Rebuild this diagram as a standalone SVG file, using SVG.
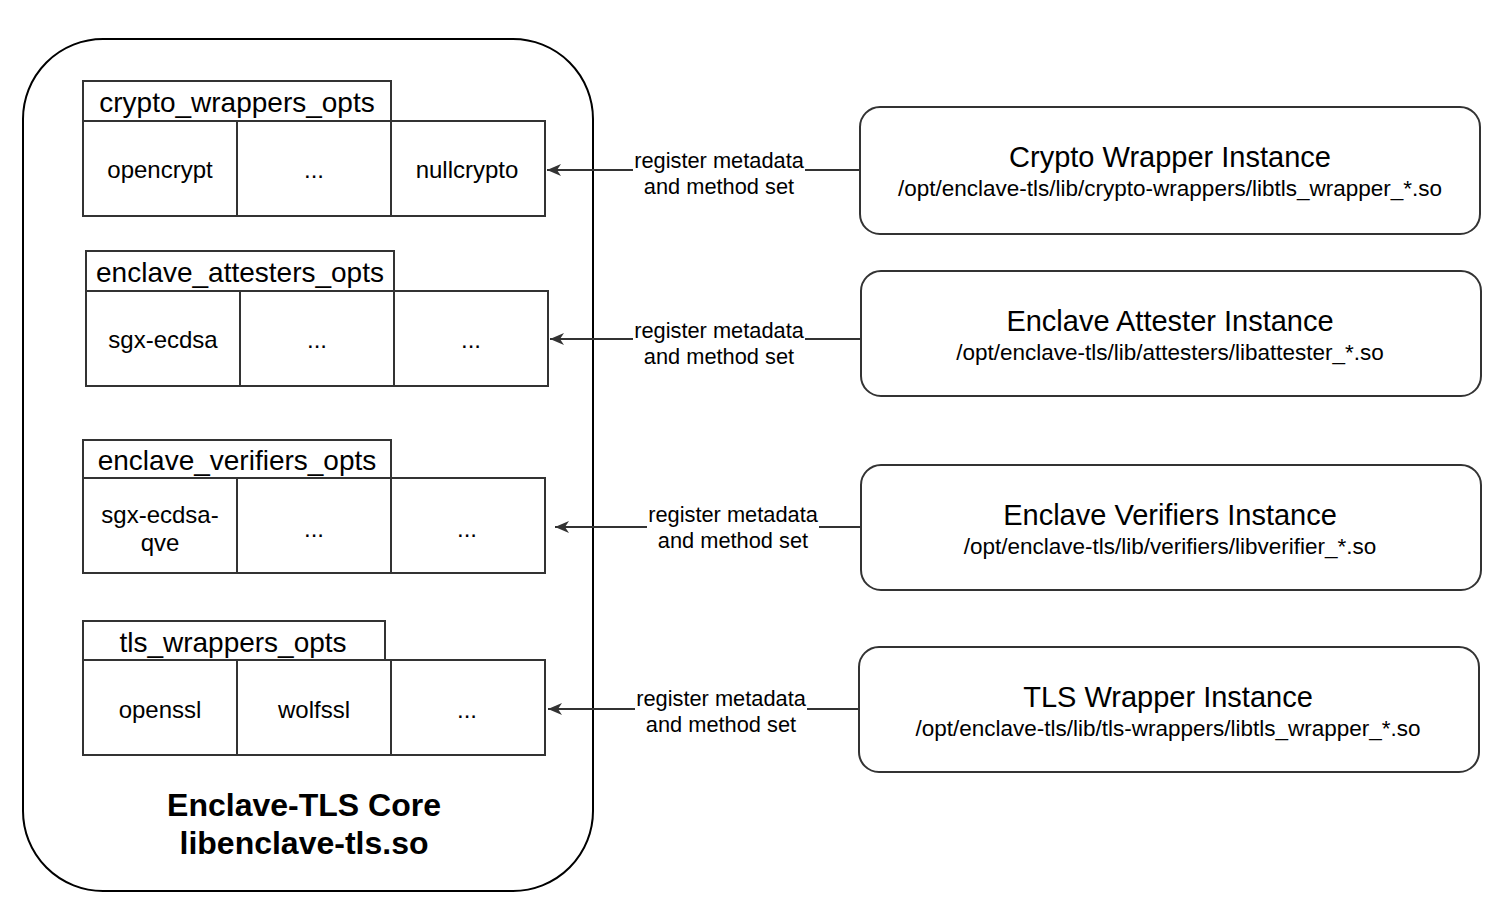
<svg xmlns="http://www.w3.org/2000/svg" width="1502" height="924" viewBox="0 0 1502 924">
<style>
text{font-family:"Liberation Sans",Arial,sans-serif;fill:#000;text-anchor:middle;dominant-baseline:central}
.cell{fill:#fff;stroke:#333;stroke-width:2}
.hdr{font-size:28px}
.ct{font-size:24px}
.lbl{font-size:21.8px}
.inst{fill:#fff;stroke:#333;stroke-width:2}
.it{font-size:29px}
.is{font-size:22.5px}
.core{font-size:32px;font-weight:bold}
.conn{fill:none;stroke:#333;stroke-width:2}
.lb{fill:#fff;stroke:none}
</style>
<defs>
<marker id="ah" markerWidth="16" markerHeight="14" refX="15" refY="7" orient="auto" markerUnits="userSpaceOnUse">
<path d="M15,7 L1,1 L5,7 L1,13 Z" fill="#333"/>
</marker>
</defs>
<rect width="1502" height="924" fill="#fff"/>
<g id="core">
<rect x="23" y="39" width="570" height="852" rx="80" ry="80" fill="#fff" stroke="#000" stroke-width="2"/>
<text class="core" x="304" y="805">Enclave-TLS Core</text>
<text class="core" x="304" y="843">libenclave-tls.so</text>
</g>
<g id="crypto_wrappers_opts">
<rect class="cell" x="83" y="81" width="308" height="40"/>
<text class="hdr" x="237" y="102">crypto_wrappers_opts</text>
<rect class="cell" x="83" y="121" width="154" height="95"/>
<rect class="cell" x="237" y="121" width="154" height="95"/>
<rect class="cell" x="391" y="121" width="154" height="95"/>
<text class="ct" x="160" y="169">opencrypt</text>
<text class="ct" x="314" y="169">...</text>
<text class="ct" x="467" y="169">nullcrypto</text>
</g>
<g id="enclave_attesters_opts">
<rect class="cell" x="86" y="251" width="308" height="40"/>
<text class="hdr" x="240" y="272">enclave_attesters_opts</text>
<rect class="cell" x="86" y="291" width="154" height="95"/>
<rect class="cell" x="240" y="291" width="154" height="95"/>
<rect class="cell" x="394" y="291" width="154" height="95"/>
<text class="ct" x="163" y="339">sgx-ecdsa</text>
<text class="ct" x="317" y="339">...</text>
<text class="ct" x="471" y="339">...</text>
</g>
<g id="enclave_verifiers_opts">
<rect class="cell" x="83" y="440" width="308" height="38"/>
<text class="hdr" x="237" y="460">enclave_verifiers_opts</text>
<rect class="cell" x="83" y="478" width="154" height="95"/>
<rect class="cell" x="237" y="478" width="154" height="95"/>
<rect class="cell" x="391" y="478" width="154" height="95"/>
<text class="ct" x="160" y="514">sgx-ecdsa-</text>
<text class="ct" x="160" y="542">qve</text>
<text class="ct" x="314" y="528">...</text>
<text class="ct" x="467" y="528">...</text>
</g>
<g id="tls_wrappers_opts">
<rect class="cell" x="83" y="621" width="302" height="39"/>
<text class="hdr" x="233" y="642">tls_wrappers_opts</text>
<rect class="cell" x="83" y="660" width="154" height="95"/>
<rect class="cell" x="237" y="660" width="154" height="95"/>
<rect class="cell" x="391" y="660" width="154" height="95"/>
<text class="ct" x="160" y="709">openssl</text>
<text class="ct" x="314" y="709">wolfssl</text>
<text class="ct" x="467" y="709">...</text>
</g>
<g id="crypto_instance">
<rect class="inst" x="860" y="107" width="620" height="127" rx="20" ry="20"/>
<text class="it" x="1170" y="157">Crypto Wrapper Instance</text>
<text class="is" x="1170" y="188">/opt/enclave-tls/lib/crypto-wrappers/libtls_wrapper_*.so</text>
</g>
<g id="attester_instance">
<rect class="inst" x="861" y="271" width="620" height="125" rx="20" ry="20"/>
<text class="it" x="1170" y="321">Enclave Attester Instance</text>
<text class="is" x="1170" y="352">/opt/enclave-tls/lib/attesters/libattester_*.so</text>
</g>
<g id="verifier_instance">
<rect class="inst" x="861" y="465" width="620" height="125" rx="20" ry="20"/>
<text class="it" x="1170" y="515">Enclave Verifiers Instance</text>
<text class="is" x="1170" y="546">/opt/enclave-tls/lib/verifiers/libverifier_*.so</text>
</g>
<g id="tls_instance">
<rect class="inst" x="859" y="647" width="620" height="125" rx="20" ry="20"/>
<text class="it" x="1168" y="697">TLS Wrapper Instance</text>
<text class="is" x="1168" y="728">/opt/enclave-tls/lib/tls-wrappers/libtls_wrapper_*.so</text>
</g>
<g id="connectors">
<path class="conn" d="M860,170 L547,170" marker-end="url(#ah)"/>
<rect class="lb" x="633" y="148" width="172" height="50"/>
<text class="lbl" x="719" y="160">register metadata</text>
<text class="lbl" x="719" y="186">and method set</text>
<path class="conn" d="M861,339 L550,339" marker-end="url(#ah)"/>
<rect class="lb" x="633" y="318" width="172" height="50"/>
<text class="lbl" x="719" y="330">register metadata</text>
<text class="lbl" x="719" y="356">and method set</text>
<path class="conn" d="M861,527 L555,527" marker-end="url(#ah)"/>
<rect class="lb" x="647" y="502" width="172" height="50"/>
<text class="lbl" x="733" y="514">register metadata</text>
<text class="lbl" x="733" y="540">and method set</text>
<path class="conn" d="M859,709 L548,709" marker-end="url(#ah)"/>
<rect class="lb" x="635" y="686" width="172" height="50"/>
<text class="lbl" x="721" y="698">register metadata</text>
<text class="lbl" x="721" y="724">and method set</text>
</g>
</svg>
